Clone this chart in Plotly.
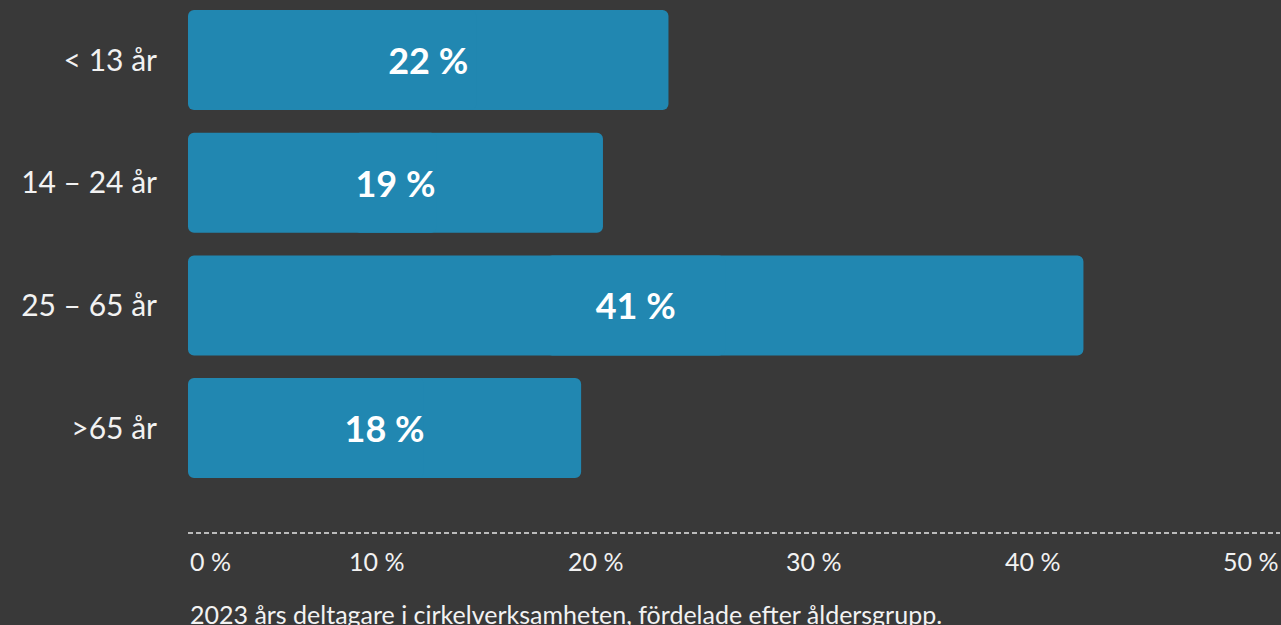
import plotly.graph_objects as go

categories = ["< 13 år", "14 – 24 år", "25 – 65 år", ">65 år"]
values = [22, 19, 41, 18]
tick_values = [0, 10, 20, 30, 40, 50]
tick_labels = ["0 %", "10 %", "20 %", "30 %", "40 %", "50 %"]
caption = "2023 års deltagare i cirkelverksamheten, fördelade efter åldersgrupp."

BG = "#393939"
BAR = "#2187b1"
TXT = "#f2f2f2"
FONT = "Lato"

# two overlapping pieces per bar so both ends get rounded corners
right_base = [v * 0.4 for v in values]
right_len = [v * 0.6 for v in values]
left_base = [v * 0.6 for v in values]
left_len = [-v * 0.6 for v in values]

fig = go.Figure()
fig.add_trace(go.Bar(
    x=right_len, base=right_base, y=categories, orientation="h",
    marker=dict(color=BAR, cornerradius=6, line=dict(width=0)),
    hoverinfo="skip",
))
fig.add_trace(go.Bar(
    x=left_len, base=left_base, y=categories, orientation="h",
    marker=dict(color=BAR, cornerradius=6, line=dict(width=0)),
    hoverinfo="skip",
))
# transparent full bar carrying the value labels
fig.add_trace(go.Bar(
    x=values, y=categories, orientation="h",
    marker=dict(color="rgba(0,0,0,0)", line=dict(width=0)),
    text=[f"{v} %" for v in values],
    textposition="inside", insidetextanchor="middle",
    textfont=dict(family=FONT, size=36, color="white", weight="bold"),
    hoverinfo="skip",
))

fig.update_layout(
    width=1281, height=625,
    paper_bgcolor=BG, plot_bgcolor=BG,
    margin=dict(l=188, r=1, t=0, b=92),
    barmode="overlay",
    bargap=0.185,
    showlegend=False,
    xaxis=dict(range=[0, 50], showgrid=False, zeroline=False, showticklabels=False,
               showline=False, fixedrange=True),
    yaxis=dict(categoryorder="array", categoryarray=categories,
               range=[3.855, -0.489], showgrid=False, zeroline=False, showline=False,
               ticks="", ticklabelstandoff=30, fixedrange=True,
               tickfont=dict(family=FONT, size=30, color=TXT)),
)

fig.add_shape(type="line", xref="x", yref="paper", x0=0, x1=50, y0=0, y1=0,
              line=dict(color="#e6e6e6", width=1.5, dash="5px,3px"))

for v, lab in zip(tick_values, tick_labels):
    fig.add_annotation(x=v, xref="x", y=-0.0206, yref="paper", text=lab,
                       showarrow=False, xanchor="left" if v == 0 else "right",
                       yanchor="top",
                       font=dict(family=FONT, size=25, color=TXT))

fig.add_annotation(x=0, xref="x", y=-0.12, yref="paper", text=caption,
                   showarrow=False, xanchor="left", yanchor="top",
                   font=dict(family=FONT, size=25, color=TXT))

fig.write_html("out.html",
               config={"displayModeBar": False},
               post_script="document.body.style.margin='0';document.body.style.overflow='hidden';")
